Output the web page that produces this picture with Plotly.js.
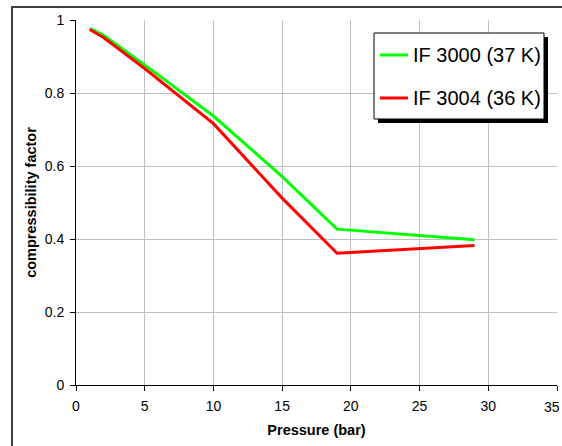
<!DOCTYPE html>
<html><head><meta charset="utf-8">
<script src="https://cdn.plot.ly/plotly-3.0.1.min.js"></script>
<style>body{margin:0;padding:0;background:#fff}#chart{width:562px;height:446px}</style>
</head><body><div id="chart"></div>
<script>
const pressureGreen = [1, 2, 5, 10, 15, 19, 29];
const zGreen = [0.977, 0.958, 0.877, 0.737, 0.571, 0.427, 0.398];
const pressureRed = [1, 2, 5, 10, 15, 19, 29];
const zRed = [0.974, 0.952, 0.867, 0.716, 0.512, 0.361, 0.382];
const seriesNames = ['IF 3000 (37 K)', 'IF 3004 (36 K)'];
const seriesColors = ['#00ff00', '#ff0000'];
const xTicks = [0, 5, 10, 15, 20, 25, 30, 35];
const yTicks = [0, 0.2, 0.4, 0.6, 0.8, 1];

const L = 76, R = 5, T = 20, B = 61, W = 562, H = 446;
const pw = W - L - R, ph = H - T - B;
const px = v => (v - L) / pw;
const py = v => (H - B - v) / ph;

const traces = [
  {x: pressureGreen, y: zGreen, name: seriesNames[0], mode: 'lines',
   line: {color: seriesColors[0], width: 3}},
  {x: pressureRed, y: zRed, name: seriesNames[1], mode: 'lines',
   line: {color: seriesColors[1], width: 3}}
];

// legend drawn as box + samples + text
const legRows = [55, 98];
const shapes = [
  {type: 'rect', xref: 'paper', yref: 'paper', layer: 'above',
   x0: px(378), x1: px(548), y0: py(123), y1: py(37),
   fillcolor: '#000', line: {width: 0}},
  {type: 'rect', xref: 'paper', yref: 'paper', layer: 'above',
   x0: px(374), x1: px(544), y0: py(119), y1: py(33),
   fillcolor: '#fff', line: {color: '#000', width: 1}},
  {type: 'rect', xref: 'paper', yref: 'paper', layer: 'below',
   x0: px(12), x1: px(600), y0: py(500), y1: py(7),
   fillcolor: 'rgba(0,0,0,0)', line: {color: '#404040', width: 2}}
];
const annotations = [];
seriesNames.forEach((n, i) => {
  shapes.push({type: 'line', xref: 'paper', yref: 'paper', layer: 'above',
    x0: px(380), x1: px(408), y0: py(legRows[i]), y1: py(legRows[i]),
    line: {color: seriesColors[i], width: 3}});
  annotations.push({xref: 'paper', yref: 'paper', x: px(411), y: py(legRows[i]),
    xanchor: 'left', yanchor: 'middle', showarrow: false, text: n,
    font: {size: 20, color: '#000'}});
});
// last tick label sits on the right edge of the figure
annotations.push({xref: 'x', yref: 'paper', x: 35, y: 0, yshift: -22, xshift: 5,
  xanchor: 'right', yanchor: 'middle', showarrow: false, text: String(xTicks[7]),
  font: {size: 14, color: '#000'}});

const layout = {
  width: W, height: H,
  margin: {l: L, r: R, t: T, b: B},
  paper_bgcolor: '#ffffff', plot_bgcolor: '#ffffff',
  font: {family: 'Arial, Liberation Sans, sans-serif', color: '#000'},
  showlegend: false,
  xaxis: {range: [0, 35], tickvals: xTicks, ticktext: xTicks.map((v, i) => i < 7 ? String(v) : ''),
    showgrid: true, gridcolor: '#c0c0c0', gridwidth: 1, zeroline: false,
    showline: true, linecolor: '#000', linewidth: 1, ticks: 'outside', ticklen: 5, tickcolor: '#000',
    tickfont: {size: 14}, fixedrange: true, ticklabelstandoff: 3,
    title: {text: '<b>Pressure (bar)</b>', font: {size: 14.5}, standoff: 12}},
  yaxis: {range: [0, 1], tickvals: yTicks, ticktext: ['0', '0.2', '0.4', '0.6', '0.8', '1'],
    showgrid: true, gridcolor: '#c0c0c0', gridwidth: 1, zeroline: false,
    showline: true, linecolor: '#000', linewidth: 1, ticks: 'outside', ticklen: 5, tickcolor: '#000',
    tickfont: {size: 14}, fixedrange: true, ticklabelstandoff: 3,
    title: {text: '<b>compressibility factor</b>', font: {size: 14.5}, standoff: 4}},
  shapes: shapes,
  annotations: annotations
};
Plotly.newPlot('chart', traces, layout, {displayModeBar: false, staticPlot: true});
</script></body></html>
